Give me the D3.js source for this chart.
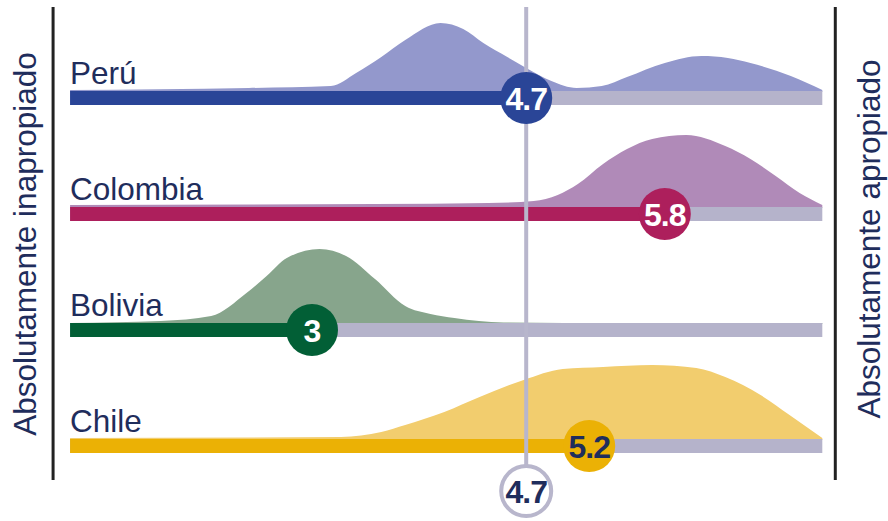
<!DOCTYPE html>
<html lang="es">
<head>
  <meta charset="UTF-8">
  <title>Percepción por país</title>
  <script src="https://d3js.org/d3.v7.min.js"></script>
  <style>
    body { margin: 0; background: #fff; font-family: "Liberation Sans", Arial, sans-serif; }
    svg { display: block; }
  </style>
</head>
<body>
  <svg width="888" height="521"></svg>

  <script>
    // data
    const countries = ["Perú", "Colombia", "Bolivia", "Chile"];
    const means     = [4.7, 5.8, 3, 5.2];
    const overall   = 4.7;
    const trackExtent = [1.08, 7.05];
    const leftLabel  = "Absolutamente inapropiado",
          rightLabel = "Absolutamente apropiado";

    // density curves: [value, relative density]
    const densPeru = [[1.08,.01],[2.5,.03],[3.15,.05],[3.35,.18],[3.55,.34],[3.74,.51],[4.02,.68],[4.2,.62],[4.36,.48],[4.55,.34],[4.7,.23],[4.9,.10],[5.1,.03],[5.3,.05],[5.5,.14],[5.8,.28],[6.09,.35],[6.3,.33],[6.48,.28],[6.8,.15],[7.05,.01]];
    const densColombia = [[1.08,.02],[3.5,.03],[4.4,.04],[4.76,.06],[4.95,.12],[5.11,.23],[5.31,.43],[5.5,.58],[5.7,.68],[5.97,.72],[6.28,.61],[6.48,.48],[6.68,.31],[6.87,.14],[7.05,.02]];
    const densBolivia = [[1.08,0],[1.8,.02],[2.2,.07],[2.48,.30],[2.64,.47],[2.8,.65],[3.06,.74],[3.27,.67],[3.5,.44],[3.74,.17],[3.94,.09],[4.13,.05],[4.52,.005],[5,0],[7.05,0]];
    const densChile = [[1.08,.01],[3.23,.02],[3.55,.07],[3.74,.14],[4.05,.27],[4.33,.42],[4.68,.59],[4.99,.70],[5.31,.72],[5.7,.74],[6.05,.71],[6.28,.62],[6.56,.44],[6.79,.24],[7.05,.01]];
    const densities = [densPeru, densColombia, densBolivia, densChile];

    const barColors   = ["#2a4597", "#ad1f5c", "#025f36", "#ebb105"];
    const ridgeColors = ["#9398cc", "#b08ab8", "#87a58c", "#f2cd6e"];
    const labelColors = ["#fff", "#fff", "#fff", "#1f2d5c"];
    const navy = "#1f2d5c", grey = "#b5b3cb", refGrey = "#b8b6cc";

    const svg = d3.select("svg");
    const x = d3.scaleLinear().domain([1, 7]).range([60, 816]);
    const row = d3.scalePoint().domain(countries).range([91, 439]);  // top of each bar
    const dens = d3.scaleLinear().domain([0, 1]).range([0, 100]);
    const barH = 14, r = 26;

    const rows = countries.map((c, i) => ({
      name: c, mean: means[i], dens: densities[i],
      bar: barColors[i], ridge: ridgeColors[i], lab: labelColors[i]
    }));

    // side rules
    svg.selectAll("line.side")
      .data([x(trackExtent[0]) - 17, x(trackExtent[1]) + 13])
      .enter().append("line")
        .attr("class", "side")
        .attr("x1", d => d).attr("x2", d => d)
        .attr("y1", 7).attr("y2", 480)
        .attr("stroke", "#222").attr("stroke-width", 3);

    // rotated end labels
    svg.append("text")
      .attr("transform", "translate(36,244) rotate(-90)")
      .attr("text-anchor", "middle")
      .attr("fill", navy).attr("font-size", 31.5)
      .text(leftLabel);
    svg.append("text")
      .attr("transform", "translate(880,239) rotate(-90)")
      .attr("text-anchor", "middle")
      .attr("fill", navy).attr("font-size", 31.5)
      .text(rightLabel);

    // ridges
    rows.forEach(d => {
      const base = row(d.name);
      const area = d3.area()
        .curve(d3.curveMonotoneX)
        .x(p => x(p[0]))
        .y0(base + 1)
        .y1(p => base - dens(p[1]));
      svg.append("path")
        .datum(d.dens)
        .attr("fill", d.ridge)
        .attr("d", area);
    });

    // country labels
    svg.selectAll("text.country")
      .data(rows)
      .enter().append("text")
        .attr("class", "country")
        .attr("x", x(trackExtent[0]))
        .attr("y", d => row(d.name) - 7)
        .attr("fill", navy)
        .attr("font-size", 31.5)
        .text(d => d.name);

    // grey tracks and coloured bars
    svg.selectAll("rect.track")
      .data(rows)
      .enter().append("rect")
        .attr("class", "track")
        .attr("x", x(trackExtent[0]))
        .attr("y", d => row(d.name))
        .attr("width", x(trackExtent[1]) - x(trackExtent[0]))
        .attr("height", barH)
        .attr("fill", grey);
    svg.selectAll("rect.bar")
      .data(rows)
      .enter().append("rect")
        .attr("class", "bar")
        .attr("x", x(trackExtent[0]))
        .attr("y", d => row(d.name))
        .attr("width", d => x(d.mean) - x(trackExtent[0]))
        .attr("height", barH)
        .attr("fill", d => d.bar);

    // overall reference line + marker
    const refY = 491;
    svg.append("line")
      .attr("x1", x(overall)).attr("x2", x(overall))
      .attr("y1", 7).attr("y2", refY - r)
      .attr("stroke", refGrey).attr("stroke-width", 4);
    svg.append("circle")
      .attr("cx", x(overall)).attr("cy", refY).attr("r", r - 1)
      .attr("fill", "#fff").attr("stroke", refGrey).attr("stroke-width", 4);
    svg.append("text")
      .attr("x", x(overall)).attr("y", refY).attr("dy", "0.36em")
      .attr("text-anchor", "middle")
      .attr("fill", navy).attr("font-size", 32).attr("font-weight", "bold")
      .attr("letter-spacing", -1)
      .text(overall);

    // mean markers
    const marks = svg.selectAll("g.mark")
      .data(rows)
      .enter().append("g")
        .attr("class", "mark")
        .attr("transform", d => `translate(${x(d.mean)},${row(d.name) + barH / 2})`);
    marks.append("circle")
      .attr("r", r)
      .attr("fill", d => d.bar);
    marks.append("text")
      .attr("dy", "0.36em")
      .attr("text-anchor", "middle")
      .attr("fill", d => d.lab)
      .attr("font-size", 32)
      .attr("font-weight", "bold")
      .attr("letter-spacing", -1)
      .text(d => d.mean);
  </script>
</body>
</html>
